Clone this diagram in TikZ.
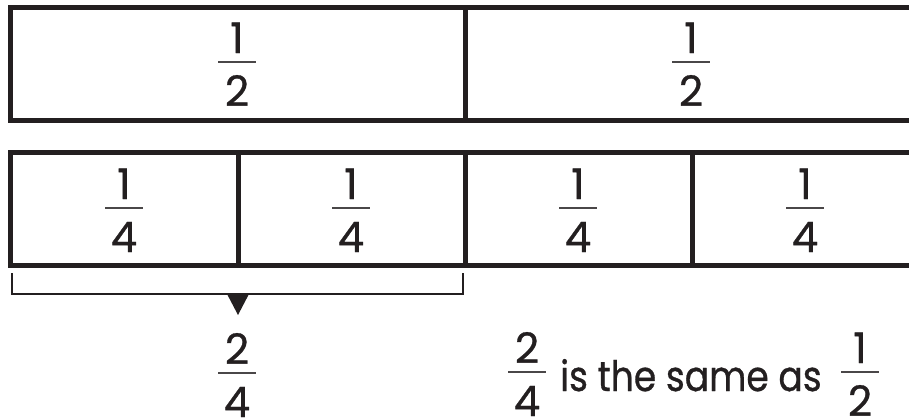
\documentclass[tikz,border=0pt]{standalone}
\usepackage{fontspec}
\setmainfont{Poppins}
\newfontfamily\dfont{Poppins}[FakeBold=0.8]
\definecolor{ink}{HTML}{231F20}
\definecolor{barc}{HTML}{4A4748}
\tikzset{
  digit/.style={font=\dfont\fontsize{42}{50}\selectfont, text=ink, inner sep=0pt},
  words/.style={font=\dfont\fontsize{42}{50}\selectfont, text=ink, inner sep=0pt},
  thickline/.style={draw=ink, line width=5pt},
  fracbar/.style={draw=barc, line width=1.6pt},
  bracketline/.style={draw=ink, line width=1.5pt},
}
% \frc{name}{x}{ybar}{num}{den}
\newcommand{\frc}[5]{%
  \node[digit, anchor=base] (#1n) at (#2, #3-9) {#4};
  \node[digit, anchor=base] (#1d) at (#2, #3+44) {#5};
  \coordinate (#1l) at (#2-19, #3);
  \coordinate (#1r) at (#2+19, #3);
  \draw[fracbar] (#1l) -- (#1r);
}
\begin{document}
\begin{tikzpicture}[x=1pt, y=-1pt]
\useasboundingbox (0,0) rectangle (909,418);
\clip (0,0) rectangle (909,418);
% top bar (halves)
\coordinate (h0) at (10.5,7.5);
\coordinate (h1) at (920,120.5);
\draw[thickline] (h0) rectangle (h1);
\coordinate (hm1) at (465,7.5);
\coordinate (hm2) at (465,120.5);
\draw[thickline] (hm1) -- (hm2);
\frc{ha}{237}{62}{1}{2}
\frc{hb}{691}{62}{1}{2}
% second bar (quarters)
\coordinate (q0) at (10.5,152.5);
\coordinate (q1) at (920,265.5);
\draw[thickline] (q0) rectangle (q1);
\foreach \xx/\nm in {238/qa,465/qb,692/qc}{
  \coordinate (\nm t) at (\xx,152.5);
  \coordinate (\nm b) at (\xx,265.5);
  \draw[thickline] (\nm t) -- (\nm b);
}
\frc{qA}{124}{208}{1}{4}
\frc{qB}{351}{208}{1}{4}
\frc{qC}{578}{208}{1}{4}
\frc{qD}{805}{208}{1}{4}
% bracket
\coordinate (b1) at (12,273);
\coordinate (b2) at (12,294);
\coordinate (b3) at (463,294);
\coordinate (b4) at (463,273);
\draw[bracketline] (b1) -- (b2) -- (b3) -- (b4);
\coordinate (t1) at (226.5,293);
\coordinate (t2) at (249.5,293);
\coordinate (t3) at (238,315);
\fill[ink] (t1) -- (t2) -- (t3) -- cycle;
% results
\frc{ra}{237}{373}{2}{4}
\frc{rb}{527}{372}{2}{4}
\node[words, anchor=base west] (txt) at (560,391) {\scalebox{0.86}[1]{is the same as}};
\frc{rc}{860}{372}{1}{2}
\end{tikzpicture}
\end{document}
